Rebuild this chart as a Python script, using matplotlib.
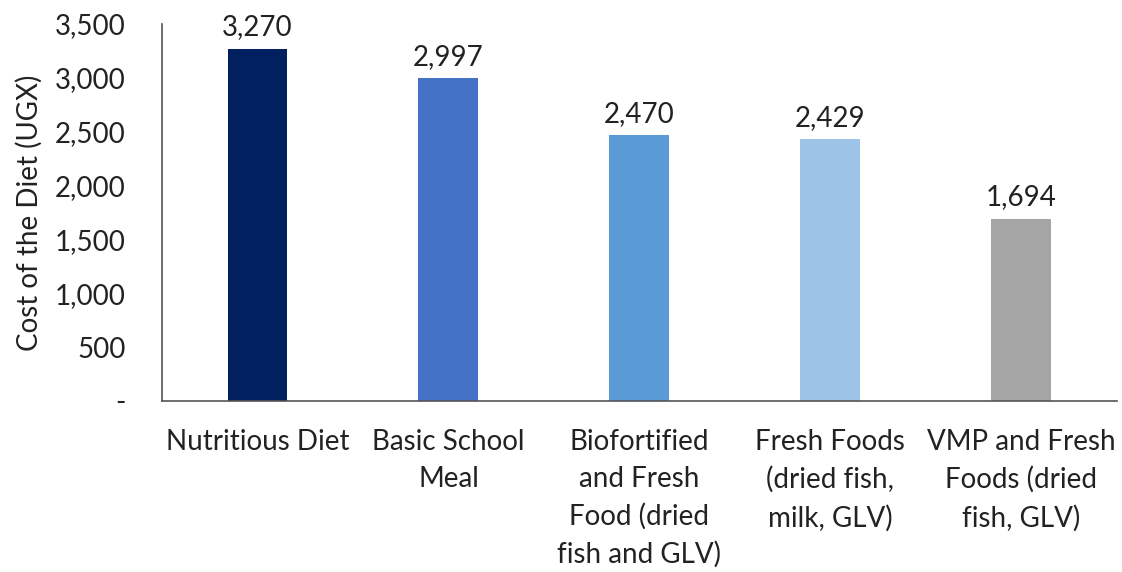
import matplotlib.pyplot as plt
from matplotlib.ticker import FuncFormatter

categories = ["Nutritious Diet", "Basic School\nMeal", "Biofortified\nand Fresh\nFood (dried\nfish and GLV)",
              "Fresh Foods\n(dried fish,\nmilk, GLV)", "VMP and Fresh\nFoods (dried\nfish, GLV)"]
costs = [3270, 2997, 2470, 2429, 1694]
colors = ["#002060", "#4472C4", "#5B9BD5", "#9DC3E6", "#A5A5A5"]

plt.rcParams['font.family'] = ['Lato', 'DejaVu Sans']
fs = 20

fig = plt.figure(figsize=(11.22, 5.72), dpi=100)
ax = fig.add_axes([0.1444, 0.299, 0.851, 0.659])

x = range(len(categories))
bars = ax.bar(x, costs, width=0.314, color=colors)
for b, v in zip(bars, costs):
    ax.annotate(f"{v:,}", (b.get_x() + b.get_width() / 2, v), xytext=(0, 6),
                textcoords="offset points", ha="center", va="bottom", fontsize=fs, color="#222222")

ax.set_xlim(-0.5, len(categories) - 0.5)
ax.set_ylim(0, 3500)
ax.set_yticks(range(0, 3501, 500))
ax.yaxis.set_major_formatter(FuncFormatter(lambda v, p: "-" if v == 0 else f"{int(v):,}"))
ax.set_xticks(list(x))
ax.set_xticklabels(categories, fontsize=fs, va="top", linespacing=1.52)
ax.tick_params(axis="both", length=0, labelsize=fs, colors="#222222")
ax.tick_params(axis="y", pad=26)
ax.tick_params(axis="x", pad=20)
ax.set_ylabel("Cost of the Diet (UGX)", fontsize=fs, color="#222222", labelpad=9)

for s in ["top", "right"]:
    ax.spines[s].set_visible(False)
for s in ["left", "bottom"]:
    ax.spines[s].set_color("#555555")
    ax.spines[s].set_linewidth(1.2)

fig.savefig("out.png", dpi=100)
